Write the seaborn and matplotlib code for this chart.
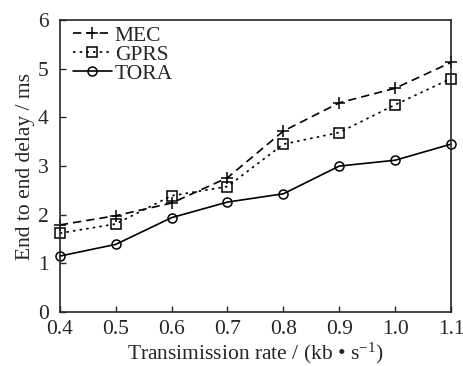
import matplotlib
matplotlib.use("Agg")
import matplotlib.pyplot as plt
from matplotlib import font_manager
import seaborn as sns
import pandas as pd

rates = [0.4, 0.5, 0.6, 0.7, 0.8, 0.9, 1.0, 1.1]
mec = [1.79, 1.98, 2.24, 2.76, 3.72, 4.30, 4.60, 5.13]
gprs = [1.62, 1.81, 2.39, 2.58, 3.45, 3.69, 4.26, 4.80]
tora = [1.15, 1.39, 1.94, 2.26, 2.43, 3.00, 3.12, 3.45]
x_ticks = [0.4, 0.5, 0.6, 0.7, 0.8, 0.9, 1.0, 1.1]
y_ticks = [0, 1, 2, 3, 4, 5, 6]

names = {f.name for f in font_manager.fontManager.ttflist}
serif = [n for n in ["Liberation Serif", "Times New Roman", "DejaVu Serif"] if n in names]

sns.set_style("ticks")
plt.rcParams['font.family'] = serif + ['DejaVu Sans']
plt.rcParams['mathtext.fontset'] = 'custom'
plt.rcParams['mathtext.rm'] = serif[0] if serif else 'serif'
plt.rcParams['mathtext.it'] = serif[0] if serif else 'serif'

fs = 15.5
fig = plt.figure(figsize=(4.64, 3.66), dpi=100)
ax = fig.add_axes([0.129, 0.1475, 0.843, 0.7975])

series = [
    ("MEC", mec, (0, (5, 3)), "+"),
    ("GPRS", gprs, (0, (1.5, 2.5)), "s"),
    ("TORA", tora, "-", "o"),
]
for name, vals, ls, mk in series:
    df = pd.DataFrame({"x": rates, "y": vals})
    sns.lineplot(data=df, x="x", y="y", ax=ax, color="black", linestyle=ls,
                 marker=mk, markersize=6.5 if mk != "+" else 8, markerfacecolor="none",
                 markeredgecolor="black", markeredgewidth=1.1, linewidth=1.2,
                 label=name, clip_on=False)

ax.set_xlim(0.4, 1.1)
ax.set_ylim(0, 6)
ax.set_xticks(x_ticks)
ax.set_xticklabels([f"{v:.1f}" for v in x_ticks])
ax.set_yticks(y_ticks)
ax.tick_params(axis="x", direction="in", labelsize=fs, length=4, width=1, pad=6)
ax.tick_params(axis="y", direction="in", labelsize=fs, length=4, width=1, pad=8)
for s in ax.spines.values():
    s.set_linewidth(1.2)
ax.set_xlabel("Transimission rate / (kb • s$^{-1}$)", fontsize=fs, labelpad=1)
ax.set_ylabel("End to end delay / ms", fontsize=fs, labelpad=2)

leg = ax.legend(loc="upper left", frameon=False, fontsize=fs, handlelength=1.8,
                handletextpad=0.15, labelspacing=-0.05, borderaxespad=0.2,
                bbox_to_anchor=(0.0, 1.025))

fig.savefig("out.png", dpi=100)
